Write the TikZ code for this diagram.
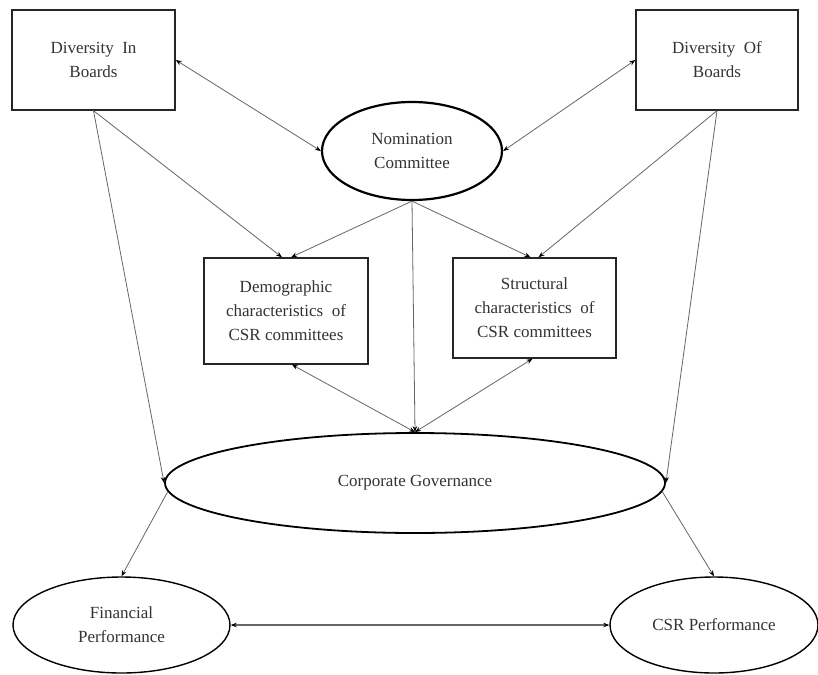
\documentclass[tikz,border=0pt]{standalone}
\usepackage{fontspec}
\setmainfont{Liberation Serif}
\usetikzlibrary{shapes.geometric,arrows.meta}
\begin{document}
\begin{tikzpicture}[x=1pt,y=-1pt,
  txt/.style={font=\fontsize{17}{24}\selectfont,align=center,text=black!80},
  boxnode/.style={txt,draw=black!85,line width=1.4pt,inner sep=0pt},
  ellnode/.style={txt,ellipse,draw=black,line width=1.6pt,inner sep=0pt},
  conn/.style={draw=black!60,line width=0.8pt},
  tip/.style={-{Stealth[length=6pt,width=4.5pt,black]}},
  tips/.style={{Stealth[length=6pt,width=4.5pt,black]}-{Stealth[length=6pt,width=4.5pt,black]}}
]
\useasboundingbox (0,0) rectangle (818,674);
\fill[white] (0,0) rectangle (818,674);

\node[boxnode,minimum width=163pt,minimum height=100pt] (dib) at (93.5,60) {Diversity\enspace In\\Boards};
\node[boxnode,minimum width=162pt,minimum height=100pt] (dob) at (717,60) {Diversity\enspace Of\\Boards};
\node[ellnode,line width=2.2pt,minimum width=180pt,minimum height=98pt] (nc) at (412,151) {Nomination\\Committee};
\node[boxnode,minimum width=164pt,minimum height=106pt] (demo) at (286,311) {Demographic\\characteristics\enspace of\\CSR committees};
\node[boxnode,minimum width=163pt,minimum height=100pt] (struct) at (534.5,308) {Structural\\characteristics\enspace of\\CSR committees};
\node[ellnode,line width=1.8pt,minimum width=500pt,minimum height=100pt] (cg) at (415,483) {\raisebox{4pt}{Corporate Governance}};
\node[ellnode,line width=1.4pt,minimum width=217pt,minimum height=96pt] (fp) at (121.5,625) {Financial\\Performance};
\node[ellnode,line width=1.4pt,minimum width=208pt,minimum height=96pt] (csr) at (714,625) {CSR Performance};

\draw[conn,tips] (dib.east) -- (nc.west);
\draw[conn,tips] (dob.west) -- (nc.east);
\draw[conn,tip] (dib.south) -- (cg.west);
\draw[conn,tip] (dib.south) -- ([xshift=-4pt]demo.north);
\draw[conn,tip] (nc.south) -- ([xshift=5pt]demo.north);
\draw[conn,tip] (nc.south) -- ([xshift=-4pt]struct.north);
\draw[conn,tip] (dob.south) -- ([xshift=4pt]struct.north);
\draw[conn,tip] (dob.south) -- (cg.east);
\draw[conn,tip] (nc.south) -- (cg.north);
\draw[conn,tips] (cg.north) -- ([xshift=6pt]demo.south);
\draw[conn,tips] (cg.north) -- ([xshift=-2pt]struct.south);
\draw[conn,tip] (cg.182) -- (fp.north);
\draw[conn,tip] (cg.-2) -- (csr.north);
\draw[conn,tips,line width=1.4pt] (fp.east) -- (csr.west);
\end{tikzpicture}
\end{document}
